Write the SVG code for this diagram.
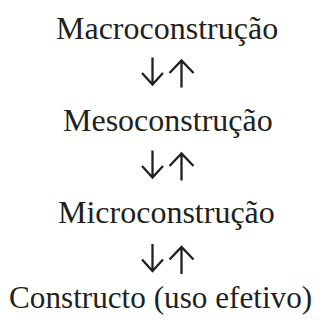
<svg xmlns="http://www.w3.org/2000/svg" width="323" height="320" viewBox="0 0 323 320">
<defs>
<style>
.t{font-family:"Liberation Serif","Times New Roman",serif;font-size:32px;fill:#231f20;}
.a{fill:none;stroke:#231f20;stroke-width:2.3;stroke-linecap:butt;stroke-linejoin:miter;}
</style>
<g id="darrow"><path class="a" d="M0,0 V27 M-10.5,15.5 L0,27 L10.5,15.5"/></g>
<g id="uarrow"><path class="a" d="M0,27 V0 M-12,12.5 L0,0 L12,12.5"/></g>
</defs>
<rect width="323" height="320" fill="#ffffff"/>
<g id="node-macro"><text class="t" x="56" y="39">Macroconstrução</text></g>
<g id="node-meso"><text class="t" x="63" y="131">Mesoconstrução</text></g>
<g id="node-micro"><text class="t" x="58" y="223">Microconstrução</text></g>
<g id="node-constructo"><text class="t" x="9" y="308" style="font-size:31.2px">Constructo (uso efetivo)</text></g>
<g id="connectors">
<use href="#darrow" x="152.5" y="57.5"/>
<use href="#uarrow" x="181.5" y="60.5"/>
<use href="#darrow" x="152.5" y="150.5"/>
<use href="#uarrow" x="181.5" y="153.5"/>
<use href="#darrow" x="152.5" y="244"/>
<use href="#uarrow" x="181.5" y="247"/>
</g>
</svg>
